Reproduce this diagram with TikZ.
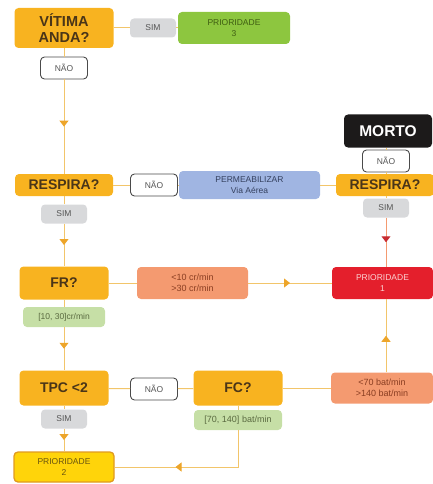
\documentclass[tikz,border=0pt]{standalone}
\usepackage{fontspec}
\setmainfont{Liberation Sans}
\usetikzlibrary{arrows.meta,decorations.markings}
\definecolor{qorange}{HTML}{F8B320}
\definecolor{qtext}{HTML}{4A3518}
\definecolor{lgold}{HTML}{F2C56A}
\definecolor{agold}{HTML}{EDA52A}
\definecolor{greyb}{HTML}{D8D9DB}
\definecolor{greyt}{HTML}{555555}
\definecolor{green3}{HTML}{8DC63F}
\definecolor{green3t}{HTML}{3F5E12}
\definecolor{lgreen}{HTML}{C6DFA6}
\definecolor{lgreent}{HTML}{5A6A40}
\definecolor{pblue}{HTML}{A0B5E2}
\definecolor{pbluet}{HTML}{34405E}
\definecolor{salmon}{HTML}{F49A70}
\definecolor{salmont}{HTML}{8A3E22}
\definecolor{pred}{HTML}{E41F2C}
\definecolor{predt}{HTML}{FBD3D3}
\definecolor{darkred}{HTML}{C72B30}
\definecolor{yel}{HTML}{FFD40A}
\definecolor{yelb}{HTML}{E09A20}
\definecolor{yelt}{HTML}{6A5510}
\definecolor{blk}{HTML}{1C1A1A}
\definecolor{outl}{HTML}{4A4A4A}
\tikzset{
  base/.style={rounded corners=4pt, align=center, inner sep=1pt},
  qbox/.style={base, fill=qorange, text=qtext, font=\bfseries\fontsize{14}{15}\selectfont},
  smallf/.style={font=\fontsize{8.5}{11}\selectfont},
  simbox/.style={base, fill=greyb, text=greyt, smallf, minimum width=46pt, minimum height=19pt},
  naobox/.style={base, draw=outl, line width=0.9pt, fill=white, text=greyt, smallf, minimum width=47pt, minimum height=22pt},
  conn/.style={draw=lgold, line width=1pt},
  midarrow/.style={postaction={decorate}, decoration={markings, mark=at position #1 with {\arrow[agold]{Triangle[width=9pt,length=6pt]}}}},
  redarrow/.style={postaction={decorate}, decoration={markings, mark=at position #1 with {\arrow[darkred]{Triangle[width=9pt,length=6pt]}}}}
}
\begin{document}
\begin{tikzpicture}[x=1pt,y=-1pt]
\useasboundingbox (0,0) rectangle (433,484);
% nodes
\node[qbox, minimum width=99pt, minimum height=40pt, font=\bfseries\fontsize{14.5}{16}\selectfont] (vit) at (64,28) {VÍTIMA\\ANDA?};
\node[simbox] (sim1) at (153,28) {SIM};
\node[base, fill=green3, text=green3t, smallf, minimum width=112pt, minimum height=32pt] (p3) at (234,28) {PRIORIDADE\\3};
\node[naobox] (nao1) at (64,68) {NÃO};
\node[qbox, minimum width=98pt, minimum height=22pt] (resp1) at (64,185) {RESPIRA?};
\node[naobox] (nao2) at (154,185) {NÃO};
\node[base, fill=pblue, text=pbluet, smallf, minimum width=141pt, minimum height=28pt] (perm) at (249.5,185) {PERMEABILIZAR\\Via Aérea};
\node[qbox, minimum width=98pt, minimum height=22pt] (resp2) at (385,185) {RESPIRA?};
\node[base, fill=blk, text=white, font=\bfseries\fontsize{15.5}{17}\selectfont, minimum width=88pt, minimum height=33pt] (morto) at (388,131) {MORTO};
\node[naobox] (nao3) at (386,161) {NÃO};
\node[simbox] (sim2) at (386,208) {SIM};
\node[simbox] (sim3) at (64,214) {SIM};
\node[qbox, minimum width=89pt, minimum height=33pt] (fr) at (64,283) {FR?};
\node[base, fill=salmon, text=salmont, smallf, font=\fontsize{9}{11}\selectfont, minimum width=111pt, minimum height=32pt] (lt10) at (192.5,283) {<10 cr/min\\>30 cr/min};
\node[base, fill=pred, text=predt, smallf, minimum width=101pt, minimum height=32pt] (p1) at (382.5,283) {PRIORIDADE\\1};
\node[base, fill=lgreen, text=lgreent, smallf, minimum width=82pt, minimum height=20pt] (g1) at (64,317) {[10, 30]cr/min};
\node[qbox, minimum width=89pt, minimum height=35pt] (tpc) at (64,388) {TPC <2};
\node[naobox] (nao4) at (154,389) {NÃO};
\node[qbox, minimum width=89pt, minimum height=35pt] (fc) at (238,388) {FC?};
\node[base, fill=salmon, text=salmont, font=\fontsize{9}{11}\selectfont, minimum width=102pt, minimum height=31pt] (lt70) at (382,388) {<70 bat/min\\>140 bat/min};
\node[base, fill=lgreen, text=lgreent, font=\fontsize{9}{11}\selectfont, minimum width=88pt, minimum height=20pt] (g2) at (238,420) {[70, 140] bat/min};
\node[simbox] (sim4) at (64,419) {SIM};
\node[base, fill=yel, draw=yelb, line width=1.3pt, text=yelt, smallf, minimum width=100pt, minimum height=30pt] (p2) at (64,467) {PRIORIDADE\\2};
% connectors
\draw[conn] (vit) -- (sim1);
\draw[conn] (sim1) -- (p3);
\draw[conn] (vit) -- (nao1);
\draw[conn, midarrow=0.5] (nao1) -- (resp1);
\draw[conn] (resp1) -- (nao2);
\draw[conn] (nao2) -- (perm);
\draw[conn] (perm) -- (resp2);
\draw[conn] (resp2.north -| nao3) -- (nao3);
\draw[conn] (nao3) -- (nao3 |- morto.south);
\draw[conn] (resp2.south -| sim2) -- (sim2);
\draw[conn, draw=salmon, redarrow=0.5] (sim2) -- (sim2 |- p1.north);
\draw[conn] (resp1) -- (sim3);
\draw[conn, midarrow=0.5] (sim3) -- (fr);
\draw[conn] (fr) -- (lt10);
\draw[conn, midarrow=0.5] (lt10) -- (p1);
\draw[conn] (fr) -- (g1);
\draw[conn, midarrow=0.5] (g1) -- (tpc);
\draw[conn] (tpc) -- (nao4);
\draw[conn] (nao4) -- (fc);
\draw[conn] (fc) -- (lt70);
\draw[conn, midarrow=0.5] (lt70.north -| sim2) -- (sim2 |- p1.south);
\draw[conn] (tpc) -- (sim4);
\draw[conn, midarrow=0.5] (sim4) -- (p2);
\draw[conn] (fc) -- (g2);
\draw[conn, midarrow=0.62] (g2) |- (p2);
\end{tikzpicture}
\end{document}
